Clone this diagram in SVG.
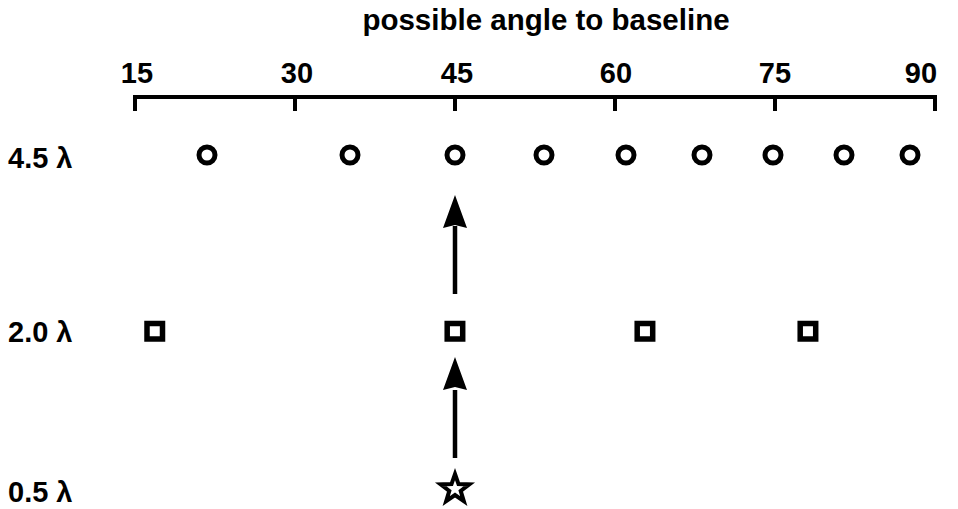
<svg xmlns="http://www.w3.org/2000/svg" width="958" height="509" viewBox="0 0 958 509">
<defs>
<style>
text{font-family:"Liberation Sans",Arial,sans-serif;font-weight:bold;fill:#000}
.t{font-size:29.5px}
.num{font-size:29px;text-anchor:middle}
.lbl{font-size:29px}
.ax{stroke:#000;stroke-width:4;fill:none;stroke-linecap:butt}
.c{fill:#fff;stroke:#000;stroke-width:5}
.s{fill:#fff;stroke:#000;stroke-width:5.5}
.star{fill:#fff;stroke:#000;stroke-width:4;stroke-linejoin:miter}
.shaft{stroke:#000;stroke-width:4.5}
</style>
</defs>
<text class="t" x="546" y="30" text-anchor="middle">possible angle to baseline</text>
<g id="axis">
<path class="ax" d="M133 97 H937 M135 97 V111 M295 97 V111 M455 97 V111 M615 97 V111 M775 97 V111 M935 97 V111"/>
<text class="num" x="137" y="83">15</text>
<text class="num" x="297" y="83">30</text>
<text class="num" x="457" y="83">45</text>
<text class="num" x="616" y="83">60</text>
<text class="num" x="775" y="83">75</text>
<text class="num" x="921" y="83">90</text>
</g>
<g id="labels">
<text class="lbl" x="8" y="168">4.5 λ</text>
<text class="lbl" x="8" y="342">2.0 λ</text>
<text class="lbl" x="8" y="502">0.5 λ</text>
</g>
<g id="row-4.5">
<circle class="c" cx="207" cy="155" r="8"/>
<circle class="c" cx="350" cy="155" r="8"/>
<circle id="c45" class="c" cx="455" cy="155" r="8"/>
<circle class="c" cx="544" cy="155" r="8"/>
<circle class="c" cx="626" cy="155" r="8"/>
<circle class="c" cx="702" cy="155" r="8"/>
<circle class="c" cx="773" cy="155" r="8"/>
<circle class="c" cx="844" cy="155" r="8"/>
<circle class="c" cx="910" cy="155" r="8"/>
</g>
<g id="row-2.0">
<rect class="s" x="147" y="323.5" width="15.5" height="15.5"/>
<rect id="s45" class="s" x="447.2" y="323.5" width="15.5" height="15.5"/>
<rect class="s" x="637.2" y="323.5" width="15.5" height="15.5"/>
<rect class="s" x="800.2" y="323.5" width="15.5" height="15.5"/>
</g>
<g id="row-0.5">
<polygon class="star" points="455,474 458.5,484.1 469.3,484.4 460.7,490.9 463.8,501.1 455,495 446.2,501.1 449.3,490.9 440.7,484.4 451.5,484.1"/>
</g>
<g id="connectors">
<path d="M455 294 V226" class="shaft"/>
<path d="M455 195 L467 228 L455 225 L443 228 Z" fill="#000"/>
<path d="M455 458 V390" class="shaft"/>
<path d="M455 357 L467 390 L455 387 L443 390 Z" fill="#000"/>
</g>
</svg>
